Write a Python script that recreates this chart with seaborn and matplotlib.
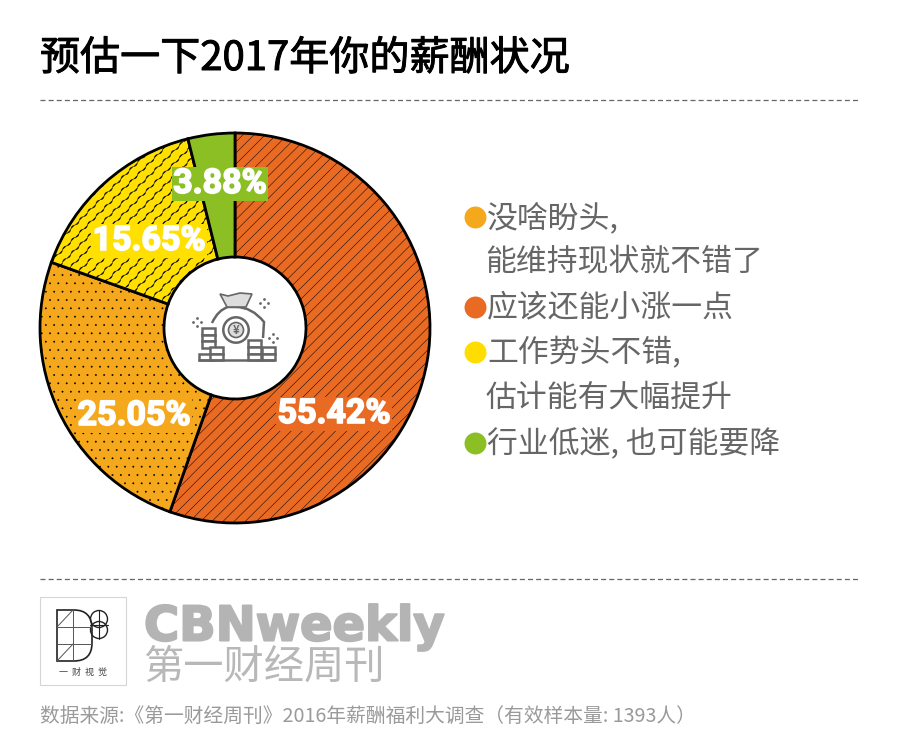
import warnings
import numpy as np
import seaborn as sns
import matplotlib
matplotlib.use('Agg')
import matplotlib.pyplot as plt
import matplotlib.hatch as mhatch
import matplotlib.patheffects as pe
from matplotlib.path import Path
from matplotlib.patches import Circle, Rectangle, PathPatch, Polygon

title = '预估一下2017年你的薪酬状况'
shares = [55.42, 25.05, 15.65, 3.88]
share_colors = ['#E96A22', '#F5A81C', '#FFE000', '#8BBF24']
share_hatches = ['///', '::', '~', None]
share_label_pos = [(334, 414), (134, 416), (149, 241), (220, 184)]

legend_labels = ['没啥盼头,', '能维持现状就不错了', '应该还能小涨一点', '工作势头不错,', '估计能有大幅提升', '行业低迷, 也可能要降']
legend_colors = ['#F5A81C', None, '#E96A22', '#FFDD00', None, '#8BBF24']
legend_rows = [218, 263, 308, 353, 398, 444]

source = '数据来源:《第一财经周刊》2016年薪酬福利大调查（有效样本量: 1393人）'

CJK = ['Noto Sans CJK SC', 'DejaVu Sans']


# wavy diagonal lines, matplotlib has no such hatch built in
class WaveHatch(mhatch.HatchPatternBase):
    def __init__(self, hatch, density):
        self.num_lines = 8 if '~' in hatch else 0
        self.steps = 240
        self.num_vertices = 2 * self.num_lines * self.steps

    def set_vertices_and_codes(self, vertices, codes):
        t = np.linspace(0, 1, self.steps)
        wobble = 0.008 * np.sin(2 * np.pi * 12 * t)
        n = 0
        for k in range(-self.num_lines, self.num_lines):
            vertices[n:n + self.steps, 0] = t + wobble
            vertices[n:n + self.steps, 1] = t - wobble + k / self.num_lines
            codes[n:n + self.steps] = Path.LINETO
            codes[n] = Path.MOVETO
            n += self.steps


# same as the '.' hatch but with smaller dots
class TinyDots(mhatch.Circles):
    size = 0.08
    filled = True

    def __init__(self, hatch, density):
        self.num_rows = hatch.count(':') * density
        super().__init__(hatch, density)


mhatch._hatch_types.extend([WaveHatch, TinyDots])
warnings.filterwarnings('ignore')

sns.set_theme(style='white')
plt.rcParams['font.family'] = CJK
plt.rcParams['hatch.linewidth'] = 0.35

W, H = 900, 753
fig = plt.figure(figsize=(W / 100, H / 100), dpi=100, facecolor='white')

# donut, centre (235, 328) radius 195 px
R = 195
cx, cy = 235, 328
pie_ax = fig.add_axes([(cx - R - 5) / W, (H - cy - R - 5) / H, (2 * R + 10) / W, (2 * R + 10) / H])
wedges, _ = pie_ax.pie(shares, colors=share_colors, startangle=90, counterclock=False, radius=R / (R + 5),
                       wedgeprops={'width': (R - 71) / (R + 5), 'edgecolor': 'black', 'linewidth': 2})
for wedge, h in zip(wedges, share_hatches):
    if h:
        wedge.set_hatch(h)
pie_ax.set_xlim(-1, 1)
pie_ax.set_ylim(-1, 1)

# everything else is laid out in pixels
ax = fig.add_axes([0, 0, 1, 1], facecolor='none')
ax.set_xlim(0, W)
ax.set_ylim(H, 0)
ax.axis('off')

ax.text(40, 59, title, fontsize=28.85, color='black', va='center', ha='left',
        path_effects=[pe.withStroke(linewidth=0.7, foreground='black')])
for y in (100, 579):
    ax.plot([40, 860], [y, y], color='#666666', lw=0.9, dashes=(4, 2.5))

for value, color, (x, y) in zip(shares, share_colors, share_label_pos):
    ax.text(x, y, f'{value:.2f}%', fontsize=24.5, fontweight='bold', family=['Roboto', 'DejaVu Sans'],
            color='white', ha='center', va='center',
            bbox={'facecolor': color, 'edgecolor': 'none', 'pad': 0.8},
            path_effects=[pe.withStroke(linewidth=1.2, foreground='white')])

# legend
for label, color, y in zip(legend_labels, legend_colors, legend_rows):
    if color:
        ax.scatter([475], [y - 1], s=250, color=color, linewidths=0)
        ax.text(487, y, label, fontsize=22.2, color='#666666', va='center', ha='left')
    else:
        ax.text(485, y, label, fontsize=22.2, color='#666666', va='center', ha='left')

# money bag icon
GREY = '#666666'
bag = Path([(212, 323), (218, 310), (228, 307), (236, 307), (252, 307), (264, 322), (263, 338)],
           [Path.MOVETO, Path.CURVE3, Path.CURVE3, Path.LINETO, Path.CURVE3, Path.CURVE3, Path.LINETO])
ax.add_patch(PathPatch(bag, facecolor='none', edgecolor=GREY, lw=1.8))
ax.add_patch(Polygon([(220, 294), (228, 296), (240, 293), (252, 294), (246, 307), (227, 307)],
                     facecolor='#dddddd', edgecolor=GREY, lw=1.2))
ax.add_patch(Circle((236, 330), 12.7, facecolor='white', edgecolor=GREY, lw=1.8))
ax.add_patch(Circle((236, 330), 7.5, facecolor='#dddddd', edgecolor=GREY, lw=1.2))
ax.text(236, 330, '¥', fontsize=8, color=GREY, ha='center', va='center', fontweight='bold')
coin_rows = [(202, 328), (202, 334.5), (202, 341), (210, 347), (199, 353.5), (210, 353.5),
             (248, 340), (248, 347), (248, 353.5), (262, 347), (262, 353.5)]
for x, y in coin_rows:
    ax.add_patch(Rectangle((x, y), 13, 6.5, facecolor='white', edgecolor=GREY, lw=1.8))
ax.plot([199, 274], [360, 360], color=GREY, lw=1.8)
for x, y in [(197, 322), (264, 303), (273, 338)]:
    ax.scatter([x - 4, x + 4, x, x], [y, y, y - 4, y + 4], s=4, color=GREY, linewidths=0)

# logo
ax.add_patch(Rectangle((40, 597), 86, 88, facecolor='white', edgecolor='#d5d5d5', lw=0.8))
d_shape = Path([(57, 610), (74, 610), (92, 610), (92, 629), (92, 643), (92, 661), (74, 661), (57, 661), (57, 610)],
               [Path.MOVETO, Path.LINETO, Path.CURVE3, Path.CURVE3, Path.LINETO, Path.CURVE3, Path.CURVE3,
                Path.LINETO, Path.CLOSEPOLY])
ax.add_patch(PathPatch(d_shape, facecolor='none', edgecolor='#222222', lw=1.2))
for xs, ys in [((73, 73), (610, 661)), ((57, 92), (627, 627)), ((57, 92), (644, 644)),
               ((57, 73), (627, 610)), ((57, 73), (661, 644))]:
    ax.plot(xs, ys, color='#555555', lw=0.7)
ax.add_patch(Circle((99, 619), 8.5, facecolor='none', edgecolor='#222222', lw=1))
ax.add_patch(Circle((99, 630), 8.5, facecolor='none', edgecolor='#222222', lw=1))
ax.plot([99, 99], [610, 639], color='#222222', lw=0.8)
ax.plot([90, 108], [625, 625], color='#222222', lw=0.8)
ax.text(83, 672, '一  财  视  觉', fontsize=6.5, color='#444444', ha='center', va='center')

# footer
ax.text(144, 627, 'CBNweekly', fontsize=34.5, fontweight='bold', family=['DejaVu Sans'], color='#b4b4b4',
        va='center', ha='left', path_effects=[pe.withStroke(linewidth=1.5, foreground='#b4b4b4')])
ax.text(143, 667, '第一财经周刊', fontsize=29, color='#b8b8b8', va='center', ha='left')
ax.text(40, 716, source, fontsize=14.2, color='#9a9a9a', va='center', ha='left')

fig.savefig('out.png', dpi=100)
